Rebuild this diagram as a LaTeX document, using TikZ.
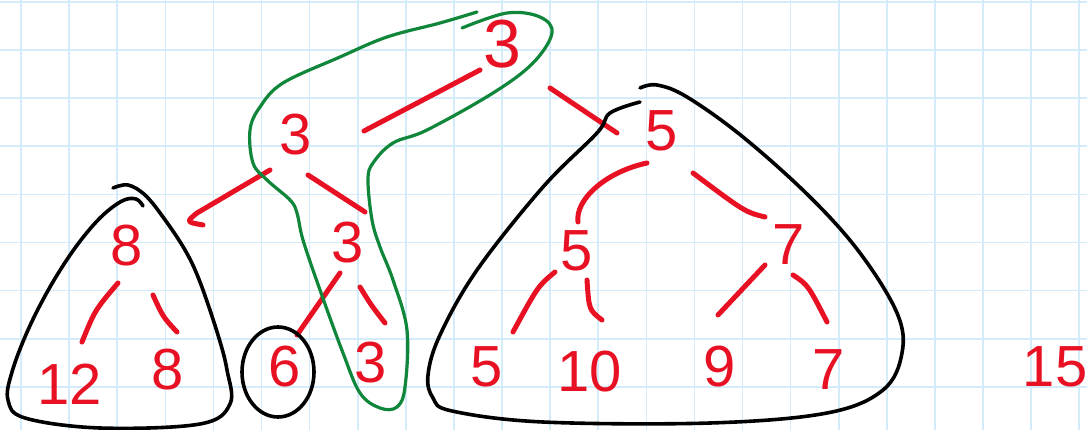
\documentclass[tikz,border=0pt]{standalone}
\usepackage{fontspec}
\setmainfont{Liberation Sans}
\usetikzlibrary{calc}
\definecolor{InkRed}{RGB}{232,17,35}
\definecolor{InkGreen}{RGB}{16,134,58}
\definecolor{GridBlue}{RGB}{212,235,250}

\begin{document}
\begin{tikzpicture}[
   x=1pt,y=-1pt,
   num/.style={text=InkRed,font=\fontsize{58}{58}\selectfont,inner sep=0pt},
   link/.style={InkRed,line width=5pt,line cap=round,line join=round},
   tri/.style={black,line width=3.6pt,line cap=round,line join=round},
   hull/.style={InkGreen,line width=3.2pt,line cap=round,line join=round},
   grid/.style={GridBlue,line width=1.6pt}]
   \useasboundingbox (0,0) rectangle (1087,430);
   \fill[white] (0,0) rectangle (1087,430);
   \foreach \i in {0,...,22} \draw[grid] ({21+48.1*\i},0) -- ({21+48.1*\i},430);
   \foreach \j in {0,...,8} \draw[grid] (0,{2+48.1*\j}) -- (1087,{2+48.1*\j});

   \node[num,font=\fontsize{68}{68}\selectfont] (top3) at (502,44) {3};
   \node[num] (left3)   at (296,135) {3};
   \node[num] (mid3)    at (348,243) {3};
   \node[num] (bot3)    at (371,363) {3};
   \node[num] (six)     at (285,367) {6};
   \node[num] (eightT)  at (127,246) {8};
   \node[num] (twelve)  at (70,384)  {12};
   \node[num] (eightB)  at (168,370) {8};
   \node[num] (fiveR)   at (662,131) {5};
   \node[num] (fiveM)   at (577,251) {5};
   \node[num] (sevenM)  at (789,245) {7};
   \node[num] (fiveL)   at (487,367) {5};
   \node[num] (ten)     at (590,372) {10};
   \node[num] (nine)    at (720,367) {9};
   \node[num] (sevenB)  at (829,370) {7};
   \node[num] (fifteen) at (1055,367) {15};

   \draw[link] ($(top3)+(-22,26)$) -- ($(left3)+(68,-4)$);
   \draw[link] ($(top3)+(48,44)$) -- ($(fiveR)+(-45,2)$);
   \draw[link] ($(left3)+(-26,35)$) -- ($(eightT)+(70,-33)$)
      .. controls ($(eightT)+(59,-24)$) .. ($(eightT)+(76,-21)$);
   \draw[link] ($(left3)+(12,40)$) -- ($(mid3)+(17,-31)$);
   \draw[link] ($(fiveR)+(-15,32)$) .. controls ($(fiveM)+(28,-79)$) and ($(fiveM)+(-2,-51)$) .. ($(fiveM)+(1,-29)$);
   \draw[link] ($(fiveR)+(31,42)$) .. controls ($(sevenM)+(-44,-33)$) .. ($(sevenM)+(-24,-28)$);
   \draw[link] ($(eightT)+(-9,37)$) .. controls ($(twelve)+(25,-74)$) .. ($(twelve)+(12,-42)$);
   \draw[link] ($(eightT)+(26,49)$) .. controls ($(eightB)+(-5,-53)$) .. ($(eightB)+(9,-38)$);
   \draw[link] ($(mid3)+(-8,30)$) -- ($(six)+(12,-32)$);
   \draw[link] ($(mid3)+(12,44)$) .. controls ($(bot3)+(0,-58)$) .. ($(bot3)+(14,-40)$);
   \draw[link] ($(fiveM)+(-22,21)$) .. controls ($(fiveM)+(-39,35)$) .. ($(fiveL)+(26,-35)$);
   \draw[link] ($(fiveM)+(10,29)$) .. controls ($(ten)+(-1,-62)$) .. ($(ten)+(12,-52)$);
   \draw[link] ($(sevenM)+(-24,20)$) -- ($(nine)+(-2,-52)$);
   \draw[link] ($(sevenM)+(4,30)$) .. controls ($(sevenB)+(-21,-85)$) .. ($(sevenB)+(-2,-48)$);

   \draw[tri] plot[smooth,tension=0.6] coordinates {(143,206) (136,199) (122,201) (100,218) (75,248) (50,287) (28,330) (12,372) (8,400) (25,418) (100,428) (200,424) (230,404) (227,370) (218,335) (200,282) (185,250) (163,217) (145,195) (128,185) (113,188)};
   \draw[tri] (six) ++(-7,5) ellipse [x radius=36,y radius=45];
   \draw[tri] plot[smooth,tension=0.6] coordinates {(640,102) (610,113) (597,133) (543,187) (477,270) (440,335) (428,375) (433,398) (452,411) (543,422) (710,423) (827,413) (883,390) (902,353) (897,313) (860,253) (810,197) (743,137) (687,97) (657,85) (640,88)};

   \draw[hull] plot[smooth,tension=0.6] coordinates {(477,12) (440,23) (387,37) (340,57) (283,83) (260,107) (250,130) (253,163) (267,180) (290,200) (297,213) (303,240) (320,290) (343,353) (360,393) (380,408) (397,407) (405,387) (407,330) (393,280) (380,247) (372,220) (368,180) (373,163) (393,143) (427,130) (493,93) (533,63) (552,33) (540,17) (507,13) (462,28)};
\end{tikzpicture}
\end{document}
